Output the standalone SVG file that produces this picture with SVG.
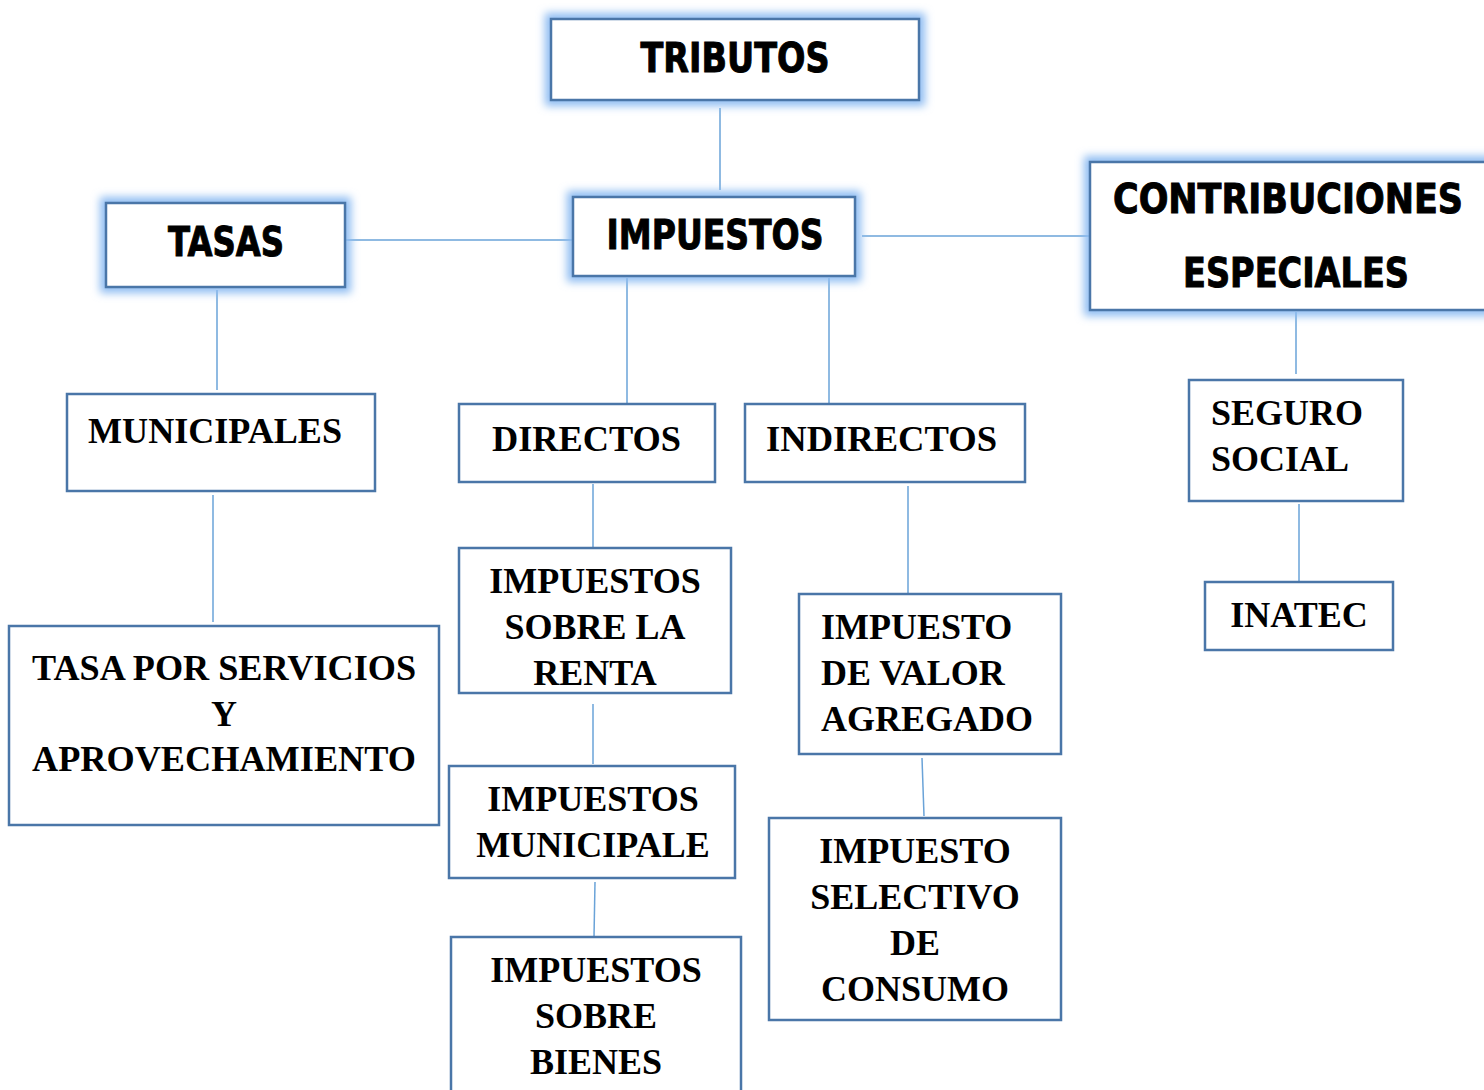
<svg xmlns="http://www.w3.org/2000/svg" width="1484" height="1090" viewBox="0 0 1484 1090">
<defs>
<filter id="glow" x="-20%" y="-30%" width="140%" height="160%">
<feGaussianBlur stdDeviation="4"/>
</filter>
<style>
.box{fill:#fff;stroke:#4a76a8;stroke-width:2.5}
.halo{fill:none;stroke:#8dbcf2;stroke-width:12;filter:url(#glow)}
.con{stroke:#6aa3d8;stroke-width:1.5;fill:none}
.h{font-family:"DejaVu Sans","Liberation Sans",sans-serif;font-weight:bold;font-size:40px;fill:#000;stroke:#000;stroke-width:1}
.s{font-family:"Liberation Serif","Times New Roman",serif;font-weight:bold;font-size:36px;fill:#000}
</style>
</defs>
<rect width="1484" height="1090" fill="#fff"/>
<g id="connectors">
<line class="con" x1="720" y1="108" x2="720" y2="190"/>
<line class="con" x1="345" y1="240" x2="573" y2="240"/>
<line class="con" x1="862" y1="236" x2="1090" y2="236"/>
<line class="con" x1="217" y1="290" x2="217" y2="390"/>
<line class="con" x1="627" y1="278" x2="627" y2="404"/>
<line class="con" x1="829" y1="278" x2="829" y2="404"/>
<line class="con" x1="1296" y1="312" x2="1296" y2="374"/>
<line class="con" x1="1299" y1="504" x2="1299" y2="582"/>
<line class="con" x1="213" y1="495" x2="213" y2="622"/>
<line class="con" x1="593" y1="484" x2="593" y2="553"/>
<line class="con" x1="593" y1="704" x2="593" y2="764"/>
<line class="con" x1="595" y1="882" x2="594" y2="937"/>
<line class="con" x1="908" y1="486" x2="908" y2="598"/>
<line class="con" x1="922" y1="758" x2="924" y2="816"/>
</g>
<g id="tributos">
<rect class="halo" x="551" y="19" width="368" height="81"/>
<rect class="box" x="551" y="19" width="368" height="81"/>
<text class="h" x="735" y="72" text-anchor="middle" textLength="189" lengthAdjust="spacingAndGlyphs">TRIBUTOS</text>
</g>
<g id="tasas">
<rect class="halo" x="106" y="203" width="239" height="84"/>
<rect class="box" x="106" y="203" width="239" height="84"/>
<text class="h" x="226" y="256" text-anchor="middle" textLength="116" lengthAdjust="spacingAndGlyphs">TASAS</text>
</g>
<g id="impuestos">
<rect class="halo" x="573" y="197" width="282" height="79"/>
<rect class="box" x="573" y="197" width="282" height="79"/>
<text class="h" x="715" y="249" text-anchor="middle" textLength="217" lengthAdjust="spacingAndGlyphs">IMPUESTOS</text>
</g>
<g id="contribuciones">
<rect class="halo" x="1090" y="162" width="410" height="148"/>
<rect class="box" x="1090" y="162" width="410" height="148"/>
<text class="h" x="1288" y="213" text-anchor="middle" textLength="350" lengthAdjust="spacingAndGlyphs">CONTRIBUCIONES</text>
<text class="h" x="1296" y="287" text-anchor="middle" textLength="226" lengthAdjust="spacingAndGlyphs">ESPECIALES</text>
</g>
<g id="municipales">
<rect class="box" x="67" y="394" width="308" height="97"/>
<text class="s" x="88" y="443" textLength="254" lengthAdjust="spacingAndGlyphs">MUNICIPALES</text>
</g>
<g id="directos">
<rect class="box" x="459" y="404" width="256" height="78"/>
<text class="s" x="492" y="451" textLength="189" lengthAdjust="spacingAndGlyphs">DIRECTOS</text>
</g>
<g id="indirectos">
<rect class="box" x="745" y="404" width="280" height="78"/>
<text class="s" x="766" y="451" textLength="231" lengthAdjust="spacingAndGlyphs">INDIRECTOS</text>
</g>
<g id="seguro">
<rect class="box" x="1189" y="380" width="214" height="121"/>
<text class="s" x="1211" y="425">SEGURO</text>
<text class="s" x="1211" y="471">SOCIAL</text>
</g>
<g id="inatec">
<rect class="box" x="1205" y="582" width="188" height="68"/>
<text class="s" x="1299" y="627" text-anchor="middle">INATEC</text>
</g>
<g id="tasa-servicios">
<rect class="box" x="9" y="626" width="430" height="199"/>
<text class="s" x="224" y="680" text-anchor="middle" textLength="384" lengthAdjust="spacingAndGlyphs">TASA POR SERVICIOS</text>
<text class="s" x="224" y="726" text-anchor="middle">Y</text>
<text class="s" x="224" y="771" text-anchor="middle" textLength="384" lengthAdjust="spacingAndGlyphs">APROVECHAMIENTO</text>
</g>
<g id="renta">
<rect class="box" x="459" y="548" width="272" height="145"/>
<text class="s" x="595" y="593" text-anchor="middle">IMPUESTOS</text>
<text class="s" x="595" y="639" text-anchor="middle">SOBRE LA</text>
<text class="s" x="595" y="685" text-anchor="middle">RENTA</text>
</g>
<g id="iva">
<rect class="box" x="799" y="594" width="262" height="160"/>
<text class="s" x="821" y="639">IMPUESTO</text>
<text class="s" x="821" y="685">DE VALOR</text>
<text class="s" x="821" y="731">AGREGADO</text>
</g>
<g id="municipale">
<rect class="box" x="449" y="766" width="286" height="112"/>
<text class="s" x="593" y="811" text-anchor="middle">IMPUESTOS</text>
<text class="s" x="593" y="857" text-anchor="middle">MUNICIPALE</text>
</g>
<g id="selectivo">
<rect class="box" x="769" y="818" width="292" height="202"/>
<text class="s" x="915" y="863" text-anchor="middle">IMPUESTO</text>
<text class="s" x="915" y="909" text-anchor="middle">SELECTIVO</text>
<text class="s" x="915" y="955" text-anchor="middle">DE</text>
<text class="s" x="915" y="1001" text-anchor="middle">CONSUMO</text>
</g>
<g id="bienes">
<rect class="box" x="451" y="937" width="290" height="170"/>
<text class="s" x="596" y="982" text-anchor="middle">IMPUESTOS</text>
<text class="s" x="596" y="1028" text-anchor="middle">SOBRE</text>
<text class="s" x="596" y="1074" text-anchor="middle">BIENES</text>
</g>
</svg>
